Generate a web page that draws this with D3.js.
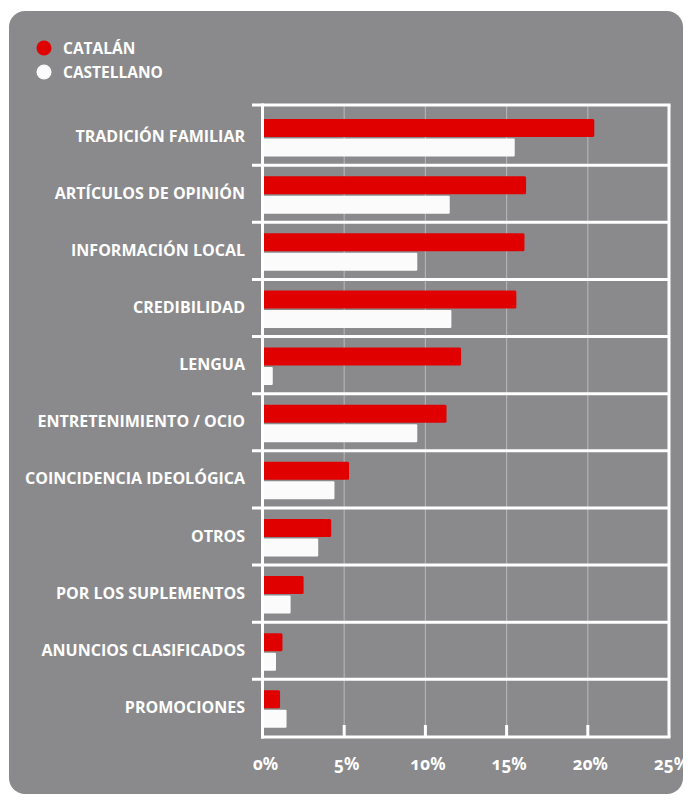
<!DOCTYPE html>
<html>
<head>
<meta charset="utf-8">
<script src="https://cdn.jsdelivr.net/npm/d3@7/dist/d3.min.js"></script>
<style>
  html, body { margin: 0; padding: 0; background: #ffffff; }
  svg { display: block; }
  .lbl { font-family: "Open Sans", "Lato", sans-serif; font-weight: 700; fill: #ffffff; }
  .tick text { font-family: "Noto Sans", "Open Sans", sans-serif; font-weight: 700; fill: #ffffff;
               font-variant-numeric: oldstyle-nums; }
</style>
</head>
<body>
<svg id="chart" width="691" height="802"></svg>
<script>
// Reasons for choosing a newspaper, share of readers by language edition
const categories = [
  "TRADICIÓN FAMILIAR",
  "ARTÍCULOS DE OPINIÓN",
  "INFORMACIÓN LOCAL",
  "CREDIBILIDAD",
  "LENGUA",
  "ENTRETENIMIENTO / OCIO",
  "COINCIDENCIA IDEOLÓGICA",
  "OTROS",
  "POR LOS SUPLEMENTOS",
  "ANUNCIOS CLASIFICADOS",
  "PROMOCIONES"
];
const catalan    = [20.4, 16.2, 16.1, 15.6, 12.2, 11.3, 5.3, 4.2, 2.5, 1.2, 1.05];
const castellano = [15.5, 11.5, 9.5, 11.6, 0.6, 9.5, 4.4, 3.4, 1.7, 0.8, 1.45];
const seriesNames = ["CATALÁN", "CASTELLANO"];
const seriesColors = ["#e10000", "#fbfbfb"];
const xTicks = [0, 5, 10, 15, 20, 25];

const svg = d3.select("#chart");
const panelColor = "#8a8a8c";

// grey rounded panel
svg.append("rect")
  .attr("x", 9).attr("y", 11)
  .attr("width", 674).attr("height", 783)
  .attr("rx", 16).attr("ry", 16)
  .attr("fill", panelColor);

const x = d3.scaleLinear().domain([0, 25]).range([263, 669]);
const y = d3.scaleBand().domain(categories).range([108, 736.5]).paddingInner(0).paddingOuter(0);
const frameTop = 105, frameBottom = 737, sepLeft = 252;

// thin vertical gridlines
svg.append("g").selectAll("line")
  .data(xTicks.slice(1, -1))
  .join("line")
  .attr("x1", d => x(d)).attr("x2", d => x(d))
  .attr("y1", frameTop).attr("y2", frameBottom)
  .attr("stroke", "#b2b2b4").attr("stroke-width", 1.2);

// bars
const rows = svg.append("g").selectAll("g")
  .data(categories)
  .join("g")
  .attr("transform", d => `translate(0,${y(d)})`);

rows.append("rect")
  .attr("x", x(0))
  .attr("y", 11)
  .attr("width", (d, i) => x(catalan[i]) - x(0))
  .attr("height", 18)
  .attr("rx", 1.5)
  .attr("fill", seriesColors[0]);

rows.append("rect")
  .attr("x", x(0))
  .attr("y", 30.5)
  .attr("width", (d, i) => x(castellano[i]) - x(0))
  .attr("height", 18)
  .attr("rx", 1)
  .attr("fill", seriesColors[1]);

// category labels
rows.append("text")
  .attr("class", "lbl")
  .attr("x", 245)
  .attr("y", y.bandwidth() / 2 - 1)
  .attr("text-anchor", "end")
  .attr("dominant-baseline", "central")
  .attr("font-size", 16)
  .text(d => d);

// row separators and frame
const frame = svg.append("g").attr("stroke", "#ffffff").attr("stroke-width", 3);
frame.selectAll("line.sep")
  .data(categories.slice(1))
  .join("line")
  .attr("class", "sep")
  .attr("x1", sepLeft).attr("x2", x(25))
  .attr("y1", d => y(d)).attr("y2", d => y(d));
frame.append("line").attr("x1", sepLeft).attr("x2", x(25) + 1.5).attr("y1", frameTop).attr("y2", frameTop);
frame.append("line").attr("x1", x(25)).attr("x2", x(25)).attr("y1", frameTop).attr("y2", frameBottom);
frame.append("line").attr("x1", x(0) - 0.5).attr("x2", x(0) - 0.5).attr("y1", frameTop - 1.5).attr("y2", frameBottom + 1.5);
frame.append("line").attr("x1", x(0) - 2).attr("x2", x(25) + 1.5).attr("y1", frameBottom).attr("y2", frameBottom);
// short tick stubs on the bottom axis
frame.selectAll("line.stub")
  .data(xTicks.slice(1, -1))
  .join("line")
  .attr("class", "stub")
  .attr("x1", d => x(d)).attr("x2", d => x(d))
  .attr("y1", frameBottom - 12).attr("y2", frameBottom);

// axis tick labels
const axis = svg.append("g")
  .attr("transform", `translate(2,${frameBottom})`)
  .call(d3.axisBottom(x).tickValues(xTicks).tickSize(0).tickPadding(21).tickFormat(d => d + "%"));
axis.select(".domain").remove();
axis.selectAll("text").attr("font-size", 17).attr("fill", "#ffffff");

// legend
const legend = svg.append("g").attr("transform", "translate(44,48)");
const li = legend.selectAll("g")
  .data(seriesNames)
  .join("g")
  .attr("transform", (d, i) => `translate(0,${i * 24})`);
li.append("circle").attr("r", 7.5).attr("fill", (d, i) => seriesColors[i]);
li.append("text")
  .attr("class", "lbl")
  .attr("x", 19)
  .attr("dominant-baseline", "central")
  .attr("font-size", 15.5)
  .text(d => d);
</script>
</body>
</html>
